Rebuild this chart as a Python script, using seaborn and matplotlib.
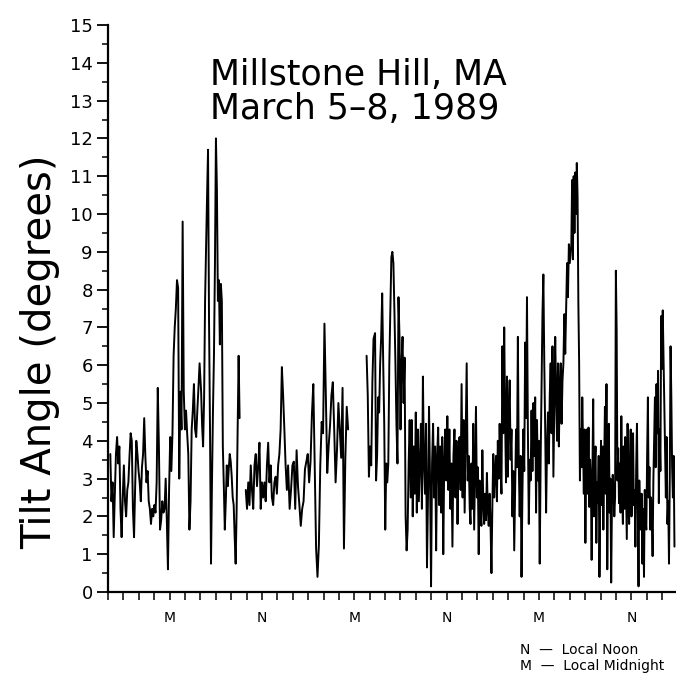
import numpy as np
import pandas as pd
import seaborn as sns
import matplotlib
matplotlib.use("Agg")
import matplotlib.pyplot as plt
from matplotlib.ticker import MultipleLocator, FixedLocator

# tilt angle readings (degrees), per stretch of record
# spans are (first hour, last hour) since start of record
seg_a1_span = (0.3, 11.9)
seg_a1 = [3.65, 2.4, 2.9, 1.45, 2.6, 3.65, 4.1, 3.4, 3.85, 2.2, 1.45, 2.5, 3.35, 2.4,
          2.0, 2.7, 2.9, 3.6, 4.2, 4.0, 2.2, 1.45, 2.8, 4.0, 3.65, 3.2, 2.9, 2.4, 3.3,
          3.65, 4.6, 3.6, 2.9, 3.2, 2.4, 2.2, 1.8, 2.2, 2.0, 2.3, 2.1, 2.9, 5.4, 3.85,
          1.65, 1.9, 2.4, 2.1, 2.2, 3.0, 1.9, 0.6, 2.7,
          4.1, 3.2, 4.2, 6.25, 7.0, 7.5, 8.25, 8.05, 3.0, 5.3, 4.3, 9.8, 5.3, 4.3, 4.8,
          4.2, 3.65, 1.65, 2.4, 4.3, 4.8, 5.5, 4.3, 4.1, 4.8, 5.4, 6.05]
seg_a2_span = (12.1, 17.1)
seg_a2 = [5.3, 4.4, 3.85, 5.1, 7.7, 9.1, 10.45, 11.7, 7.2, 4.3, 0.75, 2.9, 4.8, 6.25,
          8.65, 12.0, 10.65, 7.7, 8.25, 6.55, 8.15, 7.7, 3.85, 2.8, 1.65, 2.4, 3.35, 2.8,
          3.25, 3.65, 3.45, 3.05, 2.5, 2.3, 1.45, 0.75, 2.2, 4.3, 6.25, 4.6]
seg_b1_span = (17.9, 23.4)
seg_b1 = [2.7, 2.2, 2.9, 2.3, 3.35, 2.7, 2.2, 3.35, 3.65, 2.8, 3.35, 3.95, 2.2, 2.9,
          2.5, 2.9, 2.4, 3.35, 3.95, 2.9, 3.35, 2.5, 2.3, 2.9, 3.05, 2.6, 3.35, 3.65,
          4.3, 5.95, 5.2, 4.3, 3.35, 2.7, 3.35]
seg_b2_span = (23.6, 31.2)
seg_b2 = [2.2, 2.7, 3.35, 3.45, 2.2, 3.75, 2.8, 2.3, 1.75, 2.2, 2.4, 3.25, 3.45, 3.65,
          2.9, 3.45, 4.7, 5.5, 3.35, 1.15, 0.4, 1.25, 3.35, 4.5, 4.2, 7.1, 5.2, 3.15,
          3.85, 4.4, 5.2, 5.55, 4.3, 2.9, 3.75, 5.0, 4.3, 3.55, 5.4, 1.15, 3.55, 4.9, 4.3]
seg_c1_span = (33.6, 34.5)
seg_c1 = [6.25, 5.2, 3.05, 3.85, 3.35, 5.55, 6.7]
seg_c2_span = (34.7, 47.0)
seg_c2 = [6.85, 2.95, 3.6, 5.15, 4.75, 6.05, 6.75, 7.9, 6.05, 4.45, 1.65, 3.4, 2.9,
          3.4, 6.05, 7.45, 8.85, 9.0, 8.7, 7.45, 6.05, 4.45, 3.4, 7.8, 6.75, 4.3, 6.05,
          6.75, 5.0, 6.2, 2.0, 1.1, 1.65, 3.4,
          4.55, 2.5, 4.55, 2.0, 3.85, 2.6, 4.75, 2.1, 4.3, 2.4, 3.4, 4.45, 2.2, 5.7,
          3.4, 2.6, 4.45, 0.65, 2.5, 4.9, 3.0, 0.15, 3.4, 4.45, 2.5, 3.85, 1.1, 3.6,
          4.35, 2.3, 3.85, 2.1, 4.1, 1.0, 3.5, 4.3, 2.95, 4.65, 2.7, 4.3, 2.2, 3.4,
          1.2, 3.6, 4.3, 2.5, 4.0, 1.8, 3.7, 4.1, 2.7, 5.5, 2.5, 4.55, 2.1, 4.0, 6.05,
          2.95, 3.6, 2.2]
seg_c3_span = (47.1, 60.0)
seg_c3 = [1.8, 3.4, 2.2, 4.45, 1.65, 3.2, 4.9, 2.5, 3.3, 1.0, 2.95, 2.0, 1.75, 3.75,
          2.4, 1.8, 2.6, 1.9, 3.15, 2.2, 1.75, 2.6, 1.8, 0.5, 2.3, 3.65, 2.5, 3.2, 3.6,
          2.4, 4.0, 3.0, 4.45, 3.3,
          2.6, 6.5, 4.2, 7.0, 4.55, 2.9, 5.7, 3.05, 4.8, 5.6, 3.5, 4.3, 2.0, 3.2, 1.1,
          2.8, 4.3, 3.3, 6.75, 3.4, 2.0, 3.6, 0.4, 2.6, 4.3, 3.2, 6.6, 4.6, 7.8, 4.3,
          1.8, 3.5, 2.95, 4.8, 3.2, 5.0, 3.6, 5.15, 2.1,
          4.55, 2.95, 4.0, 0.75, 3.5, 5.5, 7.35, 8.4, 6.05, 4.3, 2.1, 3.8, 4.75, 3.4,
          5.2, 6.05, 4.2, 6.5, 3.05, 5.0, 6.75, 5.15, 4.0, 6.05, 3.85, 5.4, 6.05, 4.45,
          5.6, 6.05, 7.35, 6.3, 7.45, 8.7, 7.8, 9.2, 8.7]
seg_c4_span = (60.2, 73.6)
seg_c4 = [9.2, 10.9, 8.8, 11.0, 9.5, 11.1, 10.0, 11.35, 10.45, 7.65, 6.05,
          2.95, 4.3, 3.3, 5.15, 3.95, 2.6, 4.3, 1.3, 3.4, 4.3, 2.6, 4.35, 2.25, 3.5,
          2.95, 0.85, 3.2, 5.1, 2.0, 3.3, 3.85, 1.3, 2.9, 2.35, 3.6, 0.4, 2.5, 4.0, 2.3,
          3.85, 1.65, 3.2, 4.9, 2.6, 5.5, 0.6, 3.3, 4.45, 2.1, 3.0, 0.25, 2.35, 3.1,
          2.7, 2.0, 2.5,
          8.5, 6.95, 2.95, 3.8, 2.35, 3.4, 2.1, 4.65, 2.6, 1.8, 3.85, 2.2, 4.1, 2.8,
          1.4, 4.45, 2.4, 1.8, 3.5, 4.3, 2.0, 2.5, 4.2, 2.3, 2.7, 1.2, 3.3, 4.45, 2.2,
          0.15, 2.95, 1.9, 1.65, 2.6, 0.75, 2.2, 0.4, 2.7, 1.9, 1.65, 3.6, 5.15, 2.5,
          3.3, 1.65, 2.5, 2.1, 0.95, 2.95, 4.0, 5.15, 3.3, 5.5, 4.2, 5.85, 2.35, 4.3,
          3.2, 7.3, 5.9, 7.45, 6.2, 5.1, 3.8, 2.5, 4.1, 1.8, 2.4, 0.75, 3.0, 6.5, 5.15,
          3.3, 2.5, 3.6, 1.2]

# continuous runs of data (gaps in between)
runs = [
    [(seg_a1_span, seg_a1), (seg_a2_span, seg_a2)],
    [(seg_b1_span, seg_b1), (seg_b2_span, seg_b2)],
    [(seg_c1_span, seg_c1), (seg_c2_span, seg_c2), (seg_c3_span, seg_c3), (seg_c4_span, seg_c4)],
]

# local midnight / noon markers (hours since start)
mn_hours = [8, 20, 32, 44, 56, 68]
mn_labels = ["M", "N", "M", "N", "M", "N"]

rows = []
for run_id, segs in enumerate(runs):
    for (h0, h1), vals in segs:
        for h, v in zip(np.linspace(h0, h1, len(vals)), vals):
            rows.append({"hour": h, "tilt": v, "run": run_id})
df = pd.DataFrame(rows)

sns.set_style("ticks")
plt.rcParams["font.family"] = ["DejaVu Sans"]
for key in ["text.color", "axes.labelcolor", "xtick.color", "ytick.color"]:
    plt.rcParams[key] = "black"

W, H = 676, 681
fig = plt.figure(figsize=(W / 100, H / 100), dpi=100)
ax = fig.add_axes([108 / W, 89 / H, 568 / W, 567 / H])

sns.lineplot(data=df, x="hour", y="tilt", units="run", estimator=None,
             color="black", linewidth=1.4, sort=False, ax=ax)

ax.set_xlim(0, 73.8)
ax.set_ylim(0, 15)
sns.despine(ax=ax)
for s in ["left", "bottom"]:
    ax.spines[s].set_linewidth(1.6)
    ax.spines[s].set_color("black")

ax.yaxis.set_major_locator(MultipleLocator(1))
ax.yaxis.set_minor_locator(MultipleLocator(0.5))
ax.xaxis.set_major_locator(FixedLocator(mn_hours))
ax.xaxis.set_minor_locator(MultipleLocator(2))
ax.set_xticklabels(mn_labels)
ax.tick_params(axis="y", which="major", direction="out", length=8, width=1.3,
               labelsize=13, pad=3)
ax.tick_params(axis="y", which="minor", direction="out", length=4, width=1.1)
ax.tick_params(axis="x", which="both", direction="out", length=6, width=1.1,
               labelsize=10, pad=8)
ax.set_xlabel("")
ax.set_ylabel("")

fig.text(40 / W, 1 - 352 / H, "Tilt Angle (degrees)", rotation=90, fontsize=29,
         ha="center", va="center")
fig.text(210 / W, 1 - 75 / H, "Millstone Hill, MA", fontsize=25, ha="left", va="center")
fig.text(210 / W, 1 - 109 / H, "March 5\u20138, 1989", fontsize=25, ha="left", va="center")
fig.text(520 / W, 1 - 650 / H, "N  \u2014  Local Noon", fontsize=10, ha="left", va="center")
fig.text(520 / W, 1 - 666 / H, "M  \u2014  Local Midnight", fontsize=10, ha="left", va="center")

fig.savefig("out.png", dpi=100, facecolor="white")
